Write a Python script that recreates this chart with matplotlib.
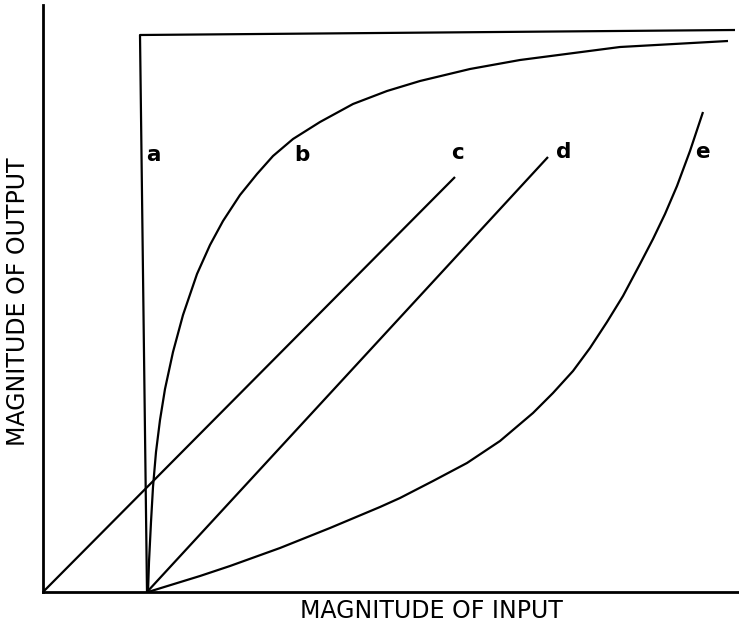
import matplotlib
matplotlib.use("Agg")
import matplotlib.pyplot as plt

# Curve data (arbitrary input/output units)
a_x = [104, 97, 692]
a_y = [0, 557, 562]

b_x = [105, 106, 108, 110, 113, 117, 122, 130, 140, 154, 167, 180, 197, 214,
       230, 250, 277, 310, 344, 377, 427, 477, 577, 685]
b_y = [0, 30, 70, 105, 140, 172, 203, 240, 277, 318, 347, 371, 397, 418,
       436, 453, 470, 488, 501, 511, 523, 532, 545, 551]

c_x = [0, 412]
c_y = [0, 415]

d_x = [104, 505]
d_y = [0, 435]

e_x = [105, 157, 187, 237, 287, 337, 357, 390, 424, 457, 490, 510, 530, 547,
       564, 580, 597, 610, 622, 634, 647, 660]
e_y = [0, 16, 26, 44, 64, 85, 94, 111, 129, 151, 179, 199, 221, 244,
       270, 296, 328, 353, 378, 406, 441, 480]

labels = ["a", "b", "c", "d", "e"]
label_x = [110, 259, 414, 521, 659]
label_y = [437, 437, 439, 440, 440]

xlabel = "MAGNITUDE OF INPUT"
ylabel = "MAGNITUDE OF OUTPUT"

W, H = 739, 626
fig = plt.figure(figsize=(W / 100, H / 100), dpi=100)
ax = fig.add_axes([43 / W, (H - 592) / H, (W - 43) / W, (592 - 5) / H])
ax.set_xlim(0, W - 43)
ax.set_ylim(0, 592 - 5)

lw = 1.6
for xs, ys in [(a_x, a_y), (b_x, b_y), (c_x, c_y), (d_x, d_y), (e_x, e_y)]:
    ax.plot(xs, ys, color="black", lw=lw, solid_capstyle="butt",
            solid_joinstyle="round", clip_on=False)

for t, x, y in zip(labels, label_x, label_y):
    ax.text(x, y, t, ha="center", va="center", fontsize=15.5, fontweight="bold",
            family="DejaVu Sans")

for s in ["top", "right"]:
    ax.spines[s].set_visible(False)
for s in ["left", "bottom"]:
    ax.spines[s].set_linewidth(2.0)
ax.set_xticks([])
ax.set_yticks([])

fig.text(431 / W, 1 - 611 / H, xlabel, ha="center", va="center", fontsize=17,
         family="DejaVu Sans")
fig.text(18 / W, 1 - 302 / H, ylabel, ha="center", va="center", fontsize=17,
         rotation=90, family="DejaVu Sans")

fig.savefig("out.png", dpi=100, facecolor="white")
